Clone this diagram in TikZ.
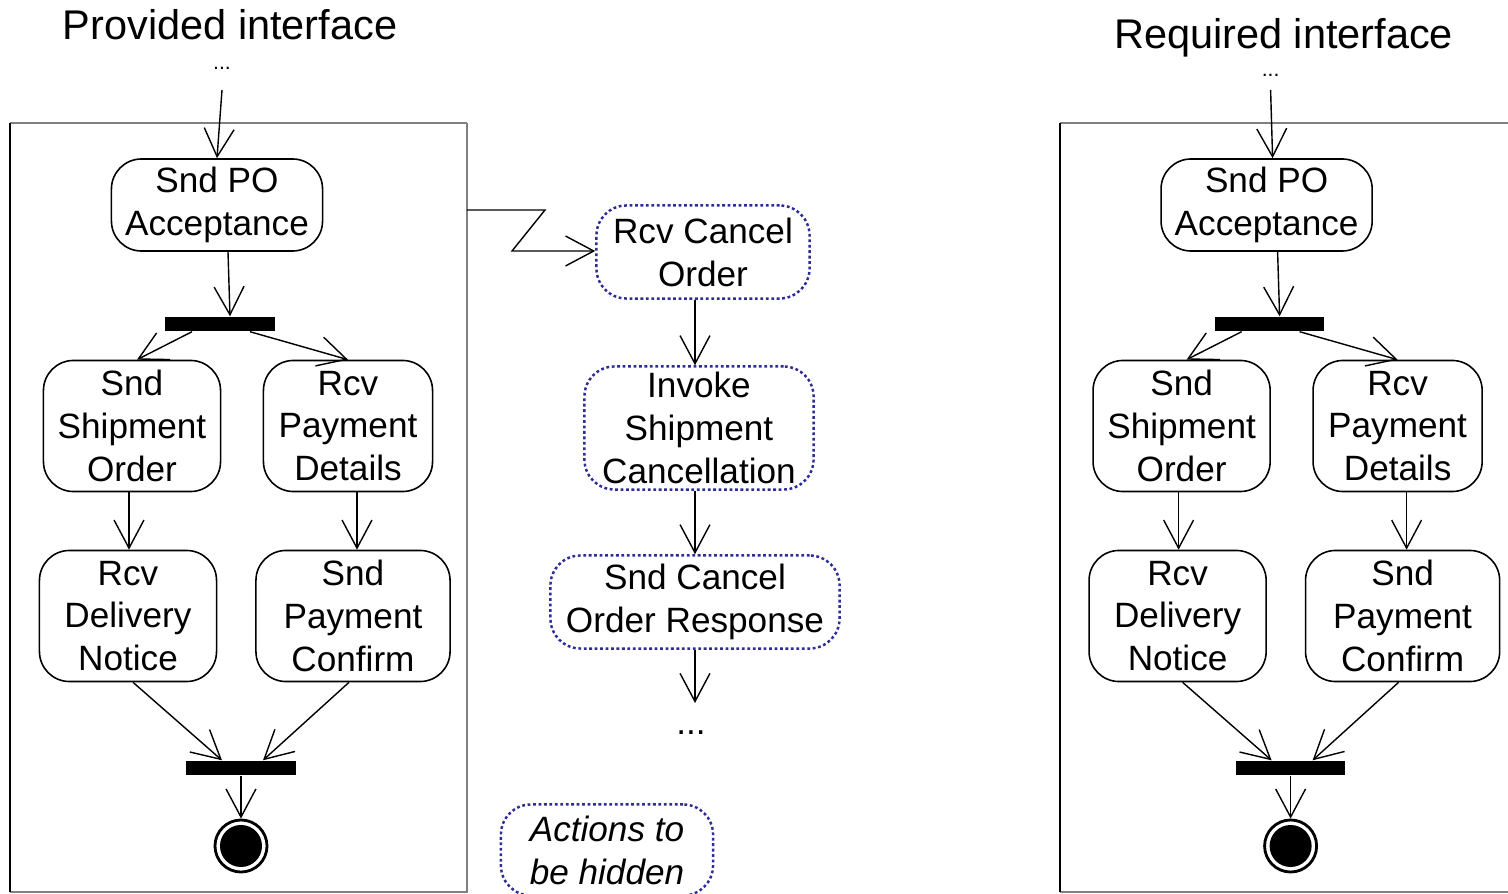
\documentclass[tikz,border=0pt]{standalone}
\usepackage{fontspec}
\setmainfont{Liberation Sans}
\usetikzlibrary{arrows.meta,calc}
\definecolor{hidblue}{RGB}{45,45,150}
\tikzset{
  act/.style={draw, line width=0.45pt, rounded corners=0.3cm, inner sep=0pt, align=center,
    font=\fontsize{10}{12.2}\selectfont},
  hid/.style={act, draw=hidblue, line width=0.7pt, dash pattern=on 0.8pt off 0.75pt},
  bar/.style={fill=black, draw=none, minimum width=1.09cm, minimum height=0.14cm, inner sep=0pt},
  flow/.style={line width=0.4pt, -{Straight Barb[length=8pt,width=8.5pt,line width=0.4pt]}},
  frameg/.style={draw=black!50, line width=0.6pt},
  title/.style={font=\fontsize{11.8}{14}\selectfont, inner sep=0pt},
  dots/.style={font=\fontsize{6}{7}\selectfont, inner sep=0pt},
}
\begin{document}
\begin{tikzpicture}[x=0.01cm,y=-0.01cm]
\useasboundingbox (0,0) rectangle (1508,894);

% ---------- left (provided interface) ----------
\draw[frameg] (467,123) -- (10,123);
\draw[frameg] (467,123) -- (467,892) -- (10,892);
\draw[line width=0.6pt] (10,123) -- (10,892);
\coordinate (lframeR) at (467,210);

\node[title] (ltitle) at (230,25) {Provided interface};
\node[dots] (ldots) at (222,68) {...};
\coordinate (lin) at (222,90);

\node[act, minimum width=2.11cm, minimum height=0.92cm] (lpo) at (217,205) {Snd PO\\Acceptance};
\node[bar] (lfork) at (220,324) {};
\node[act, minimum width=1.77cm, minimum height=1.31cm] (lship) at (132,426) {Snd\\Shipment\\Order};
\node[act, minimum width=1.69cm, minimum height=1.31cm] (lpay) at (348,426) {Rcv\\Payment\\Details};
\node[act, minimum width=1.77cm, minimum height=1.31cm] (ldel) at (128,616) {Rcv\\Delivery\\Notice};
\node[act, minimum width=1.94cm, minimum height=1.31cm] (lconf) at (353,616) {Snd\\Payment\\Confirm};
\node[bar] (ljoin) at (241,768) {};
\node[circle, draw, line width=0.8pt, minimum size=0.52cm, inner sep=0pt] (lfinal) at (241,846) {};
\fill (lfinal.center) circle (0.21cm);

\draw[flow] (lin) -- (lpo.north);
\draw[flow] ($(lpo.south)+(11,0)$) -- ($(lfork.north)+(10,0)$);
\draw[flow] ($(lfork.south)+(-28,0)$) -- ($(lship.north)+(5,0)$);
\draw[flow] ($(lfork.south)+(30,0)$) -- ($(lpay.north)+(0,0)$);
\draw[flow] ($(lship.south)+(-3,0)$) -- ($(ldel.north)+(1,0)$);
\draw[flow] ($(lpay.south)+(9,0)$) -- ($(lconf.north)+(4,0)$);
\draw[flow] ($(ldel.south)+(5,0)$) -- ($(ljoin.north)+(-19,0)$);
\draw[flow] ($(lconf.south)+(-4,0)$) -- ($(ljoin.north)+(22,0)$);
\draw[flow] (ljoin.south) -- (lfinal.north);

% ---------- middle (hidden actions) ----------
\node[hid, minimum width=2.13cm, minimum height=0.93cm] (rcvc) at (703,252) {Rcv Cancel\\Order};
\node[hid, minimum width=2.29cm, minimum height=1.23cm] (inv) at (699,428) {Invoke\\Shipment\\Cancellation};
\node[hid, minimum width=2.89cm, minimum height=0.93cm] (sndc) at (695,602) {Snd Cancel\\Order Response};
\node[font=\fontsize{10}{12}\selectfont, inner sep=0pt] (mdots) at (691,733) {...};
\coordinate (mend) at (695,703);
\node[hid, minimum width=2.12cm, minimum height=0.91cm, font=\fontsize{10}{12.2}\selectfont\itshape] (legend) at (607,850) {Actions to\\be hidden};

\draw[flow] (lframeR) -- (545,210) -- (512,251) -- ($(rcvc.west)+(0,-1)$);
\draw[flow] ($(rcvc.south)+(-8,0)$) -- ($(inv.north)+(-4,0)$);
\draw[flow] ($(inv.south)+(-4,0)$) -- (sndc.north);
\draw[flow] (sndc.south) -- (mend);

% ---------- right (required interface) ----------
\begin{scope}[xshift=10.49cm]
\draw[frameg] (459,123) -- (10,123);
\draw[frameg] (10,892) -- (459,892);
\draw[line width=0.6pt] (10,123) -- (10,892);

\node[title] (rtitle) at (234,38) {Required interface};
\node[dots] (rdots) at (221,75) {...};
\coordinate (rin) at (221,90);

\node[act, minimum width=2.11cm, minimum height=0.92cm] (rpo) at (217,205) {Snd PO\\Acceptance};
\node[bar] (rfork) at (220,324) {};
\node[act, minimum width=1.77cm, minimum height=1.31cm] (rship) at (132,426) {Snd\\Shipment\\Order};
\node[act, minimum width=1.69cm, minimum height=1.31cm] (rpay) at (348,426) {Rcv\\Payment\\Details};
\node[act, minimum width=1.77cm, minimum height=1.31cm] (rdel) at (128,616) {Rcv\\Delivery\\Notice};
\node[act, minimum width=1.94cm, minimum height=1.31cm] (rconf) at (353,616) {Snd\\Payment\\Confirm};
\node[bar] (rjoin) at (241,768) {};
\node[circle, draw, line width=0.8pt, minimum size=0.52cm, inner sep=0pt] (rfinal) at (241,846) {};
\fill (rfinal.center) circle (0.21cm);

\draw[flow] (rin) -- ($(rpo.north)+(6,0)$);
\draw[flow] ($(rpo.south)+(11,0)$) -- ($(rfork.north)+(10,0)$);
\draw[flow] ($(rfork.south)+(-28,0)$) -- ($(rship.north)+(5,0)$);
\draw[flow] ($(rfork.south)+(30,0)$) -- ($(rpay.north)+(0,0)$);
\draw[flow] ($(rship.south)+(-3,0)$) -- ($(rdel.north)+(1,0)$);
\draw[flow] ($(rpay.south)+(9,0)$) -- ($(rconf.north)+(4,0)$);
\draw[flow] ($(rdel.south)+(5,0)$) -- ($(rjoin.north)+(-19,0)$);
\draw[flow] ($(rconf.south)+(-4,0)$) -- ($(rjoin.north)+(22,0)$);
\draw[flow] (rjoin.south) -- (rfinal.north);
\end{scope}
\end{tikzpicture}
\end{document}
